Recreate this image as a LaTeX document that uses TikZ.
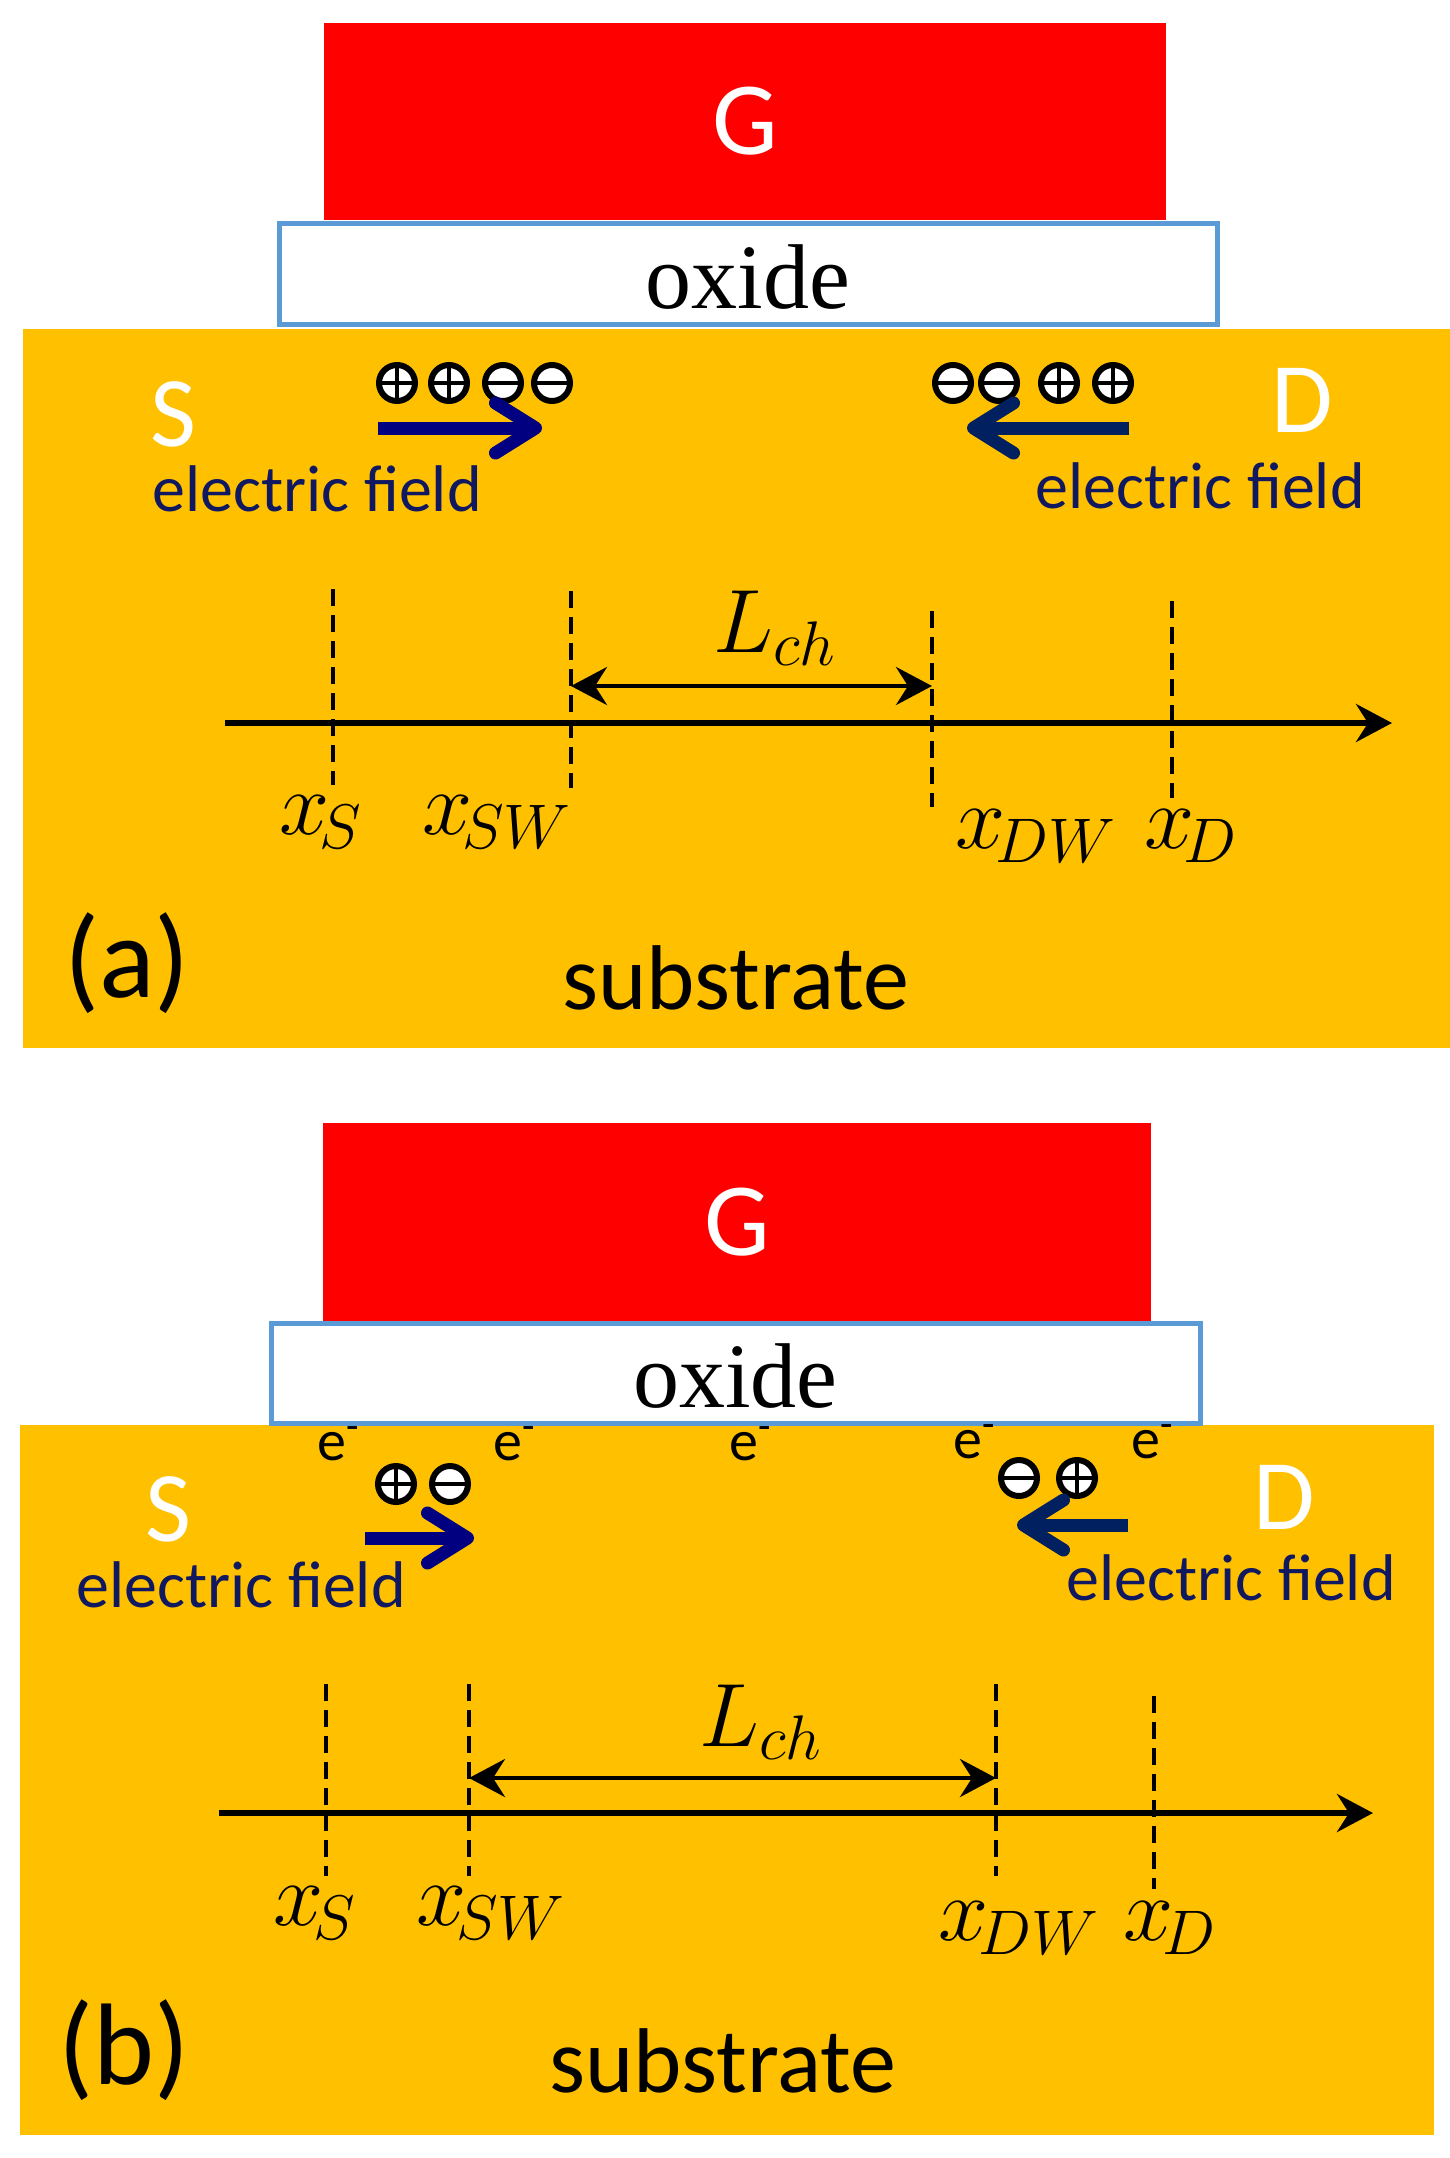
\documentclass[tikz,border=0pt]{standalone}
\usepackage{fix-cm}
\usepackage{amsmath}
\usepackage{fontspec}
\setmainfont{Carlito}
\newfontfamily\oxidefont{Liberation Serif}
\usetikzlibrary{arrows.meta}
\definecolor{subcol}{HTML}{FFC000}
\definecolor{oxcol}{HTML}{5B9BD5}
\definecolor{gatecol}{HTML}{FF0000}
\definecolor{fieldcol}{HTML}{101860}
\definecolor{arrowa}{HTML}{000080}
\definecolor{arrowb}{HTML}{002060}
\tikzset{
  gatebox/.style={fill=gatecol,text=white,inner sep=0pt,font=\fontsize{52}{56}\selectfont},
  oxidebox/.style={fill=white,draw=oxcol,line width=2.5pt,inner sep=0pt,text height=35pt,font=\oxidefont\fontsize{46}{50}\selectfont},
  subbox/.style={fill=subcol,inner sep=0pt},
  contact/.style={text=white,inner sep=0pt,font=\fontsize{50}{54}\selectfont},
  fieldtext/.style={text=fieldcol,anchor=base,inner sep=0pt,font=\fontsize{33}{36}\selectfont},
  subtext/.style={anchor=base,inner sep=0pt,font=\fontsize{46}{50}\selectfont},
  paneltext/.style={inner sep=0pt,font=\fontsize{58}{62}\selectfont},
  mathtext/.style={inner sep=0pt,font=\fontsize{45}{50}\selectfont},
  electron/.style={inner sep=0pt,font=\fontsize{29}{32}\selectfont},
  chargebase/.style={circle,draw=black,fill=white,line width=3pt,minimum size=18pt,inner sep=0pt},
  chargep/.style={chargebase,path picture={
    \draw[line width=2pt] (path picture bounding box.west) -- (path picture bounding box.east);
    \draw[line width=2pt] (path picture bounding box.north) -- (path picture bounding box.south);}},
  chargen/.style={chargebase,path picture={
    \draw[line width=2pt] (path picture bounding box.west) -- (path picture bounding box.east);}},
  fieldarrow/.style={line width=6.5pt,-{Straight Barb[round,length=20pt,width=25pt]}},
  axisline/.style={line width=2.8pt,-{Stealth[length=18pt,width=19pt,inset=6pt]}},
  spanline/.style={line width=2.2pt,{Stealth[length=18pt,width=19pt,inset=6pt]}-{Stealth[length=18pt,width=19pt,inset=6pt]}},
  marker/.style={line width=2.4pt,dash pattern=on 8.5pt off 4.5pt}
}
\begin{document}
\begin{tikzpicture}[x=0.5pt,y=-0.5pt]
        \useasboundingbox (0,0) rectangle (1450,2158);
        \fill[white] (0,0) rectangle (1450,2158);

        \node[subbox, minimum width=714pt, minimum height=359.5pt] (suba) at (737,688.5) {};
        \node[gatebox, minimum width=421pt, minimum height=98.5pt] (gatea) at (745,121.5) {G};
        \node[oxidebox, minimum width=469pt, minimum height=50.5pt] (oxa) at (748,274) {oxide};
        \node[contact] (sa) at (173,414) {S};
        \node[contact] (da) at (1302,400) {D};
        \node[chargep] (qa1) at (397,383) {};
        \node[chargep] (qa2) at (449,383) {};
        \node[chargen] (qa3) at (503,383) {};
        \node[chargen] (qa4) at (552,383) {};
        \node[chargen] (qa5) at (953,383) {};
        \node[chargen] (qa6) at (999,383) {};
        \node[chargep] (qa7) at (1059,383) {};
        \node[chargep] (qa8) at (1113,383) {};
        \coordinate (fa1) at (378,428);
        \coordinate (fa2) at (542,428);
        \coordinate (fa3) at (1129,428);
        \coordinate (fa4) at (967,428);
        \draw[fieldarrow,arrowa] (fa1) -- (fa2);
        \draw[fieldarrow,arrowb] (fa3) -- (fa4);
        \node[fieldtext] (efa1) at (317,511) {electric field};
        \node[fieldtext] (efa2) at (1200,508) {electric field};
        \coordinate (axa1) at (225,723);
        \coordinate (axa2) at (1392,723);
        \draw[axisline] (axa1) -- (axa2);
        \coordinate (ma1) at (333,589);
        \coordinate (ma2) at (333,785);
        \coordinate (ma3) at (571,591);
        \coordinate (ma4) at (571,788);
        \coordinate (ma5) at (932,611);
        \coordinate (ma6) at (932,807);
        \coordinate (ma7) at (1172,601);
        \coordinate (ma8) at (1172,798);
        \draw[marker] (ma1) -- (ma2);
        \draw[marker] (ma3) -- (ma4);
        \draw[marker] (ma5) -- (ma6);
        \draw[marker] (ma7) -- (ma8);
        \coordinate (spa1) at (571,686);
        \coordinate (spa2) at (932,686);
        \draw[spanline] (spa1) -- (spa2);
        \node[mathtext] (lcha) at (775,628) {$L_{ch}$};
        \node[mathtext] (xsa) at (321,822) {$x_{\!S}$};
        \node[mathtext] (xswa) at (497,822) {$x_{\!SW}$};
        \node[mathtext] (xdwa) at (1036,836) {$x_{\!DW}$};
        \node[mathtext] (xda) at (1191,836) {$x_{\!D}$};
        \node[paneltext] (pa) at (127,963) {(a)};
        \node[subtext] (txta) at (736,1009) {substrate};

        \node[subbox, minimum width=707pt, minimum height=355pt] (subb) at (727,1780) {};
        \node[gatebox, minimum width=414pt, minimum height=99pt] (gateb) at (737,1222) {G};
        \node[oxidebox, minimum width=464.5pt, minimum height=50pt] (oxb) at (735.5,1373) {oxide};
        \node[contact] (sb) at (168,1509) {S};
        \node[contact] (db) at (1284,1497) {D};
        \node[electron] (e1) at (339,1444) {e\textsuperscript{-}};
        \node[electron] (e2) at (515,1444) {e\textsuperscript{-}};
        \node[electron] (e3) at (751,1444) {e\textsuperscript{-}};
        \node[electron] (e4) at (975,1442) {e\textsuperscript{-}};
        \node[electron] (e5) at (1153,1442) {e\textsuperscript{-}};
        \node[chargep] (qb1) at (396,1484) {};
        \node[chargen] (qb2) at (450,1484) {};
        \node[chargen] (qb3) at (1019,1478) {};
        \node[chargep] (qb4) at (1077,1478) {};
        \coordinate (fb1) at (365,1538);
        \coordinate (fb2) at (474,1538);
        \coordinate (fb3) at (1128,1525);
        \coordinate (fb4) at (1017,1525);
        \draw[fieldarrow,arrowa] (fb1) -- (fb2);
        \draw[fieldarrow,arrowb] (fb3) -- (fb4);
        \node[fieldtext] (efb1) at (241,1607) {electric field};
        \node[fieldtext] (efb2) at (1231,1600) {electric field};
        \coordinate (axb1) at (219,1813);
        \coordinate (axb2) at (1373,1813);
        \draw[axisline] (axb1) -- (axb2);
        \coordinate (mb1) at (326,1684);
        \coordinate (mb2) at (326,1876);
        \coordinate (mb3) at (469,1684);
        \coordinate (mb4) at (469,1876);
        \coordinate (mb5) at (996,1684);
        \coordinate (mb6) at (996,1876);
        \coordinate (mb7) at (1154,1696);
        \coordinate (mb8) at (1154,1889);
        \draw[marker] (mb1) -- (mb2);
        \draw[marker] (mb3) -- (mb4);
        \draw[marker] (mb5) -- (mb6);
        \draw[marker] (mb7) -- (mb8);
        \coordinate (spb1) at (469,1778);
        \coordinate (spb2) at (996,1778);
        \draw[spanline] (spb1) -- (spb2);
        \node[mathtext] (lchb) at (761,1722) {$L_{ch}$};
        \node[mathtext] (xsb) at (315,1913) {$x_{\!S}$};
        \node[mathtext] (xswb) at (491,1913) {$x_{\!SW}$};
        \node[mathtext] (xdwb) at (1019,1928) {$x_{\!DW}$};
        \node[mathtext] (xdb) at (1170,1928) {$x_{\!D}$};
        \node[paneltext] (pb) at (124,2050) {(b)};
        \node[subtext] (txtb) at (723,2092) {substrate};
    \end{tikzpicture}
\end{document}
